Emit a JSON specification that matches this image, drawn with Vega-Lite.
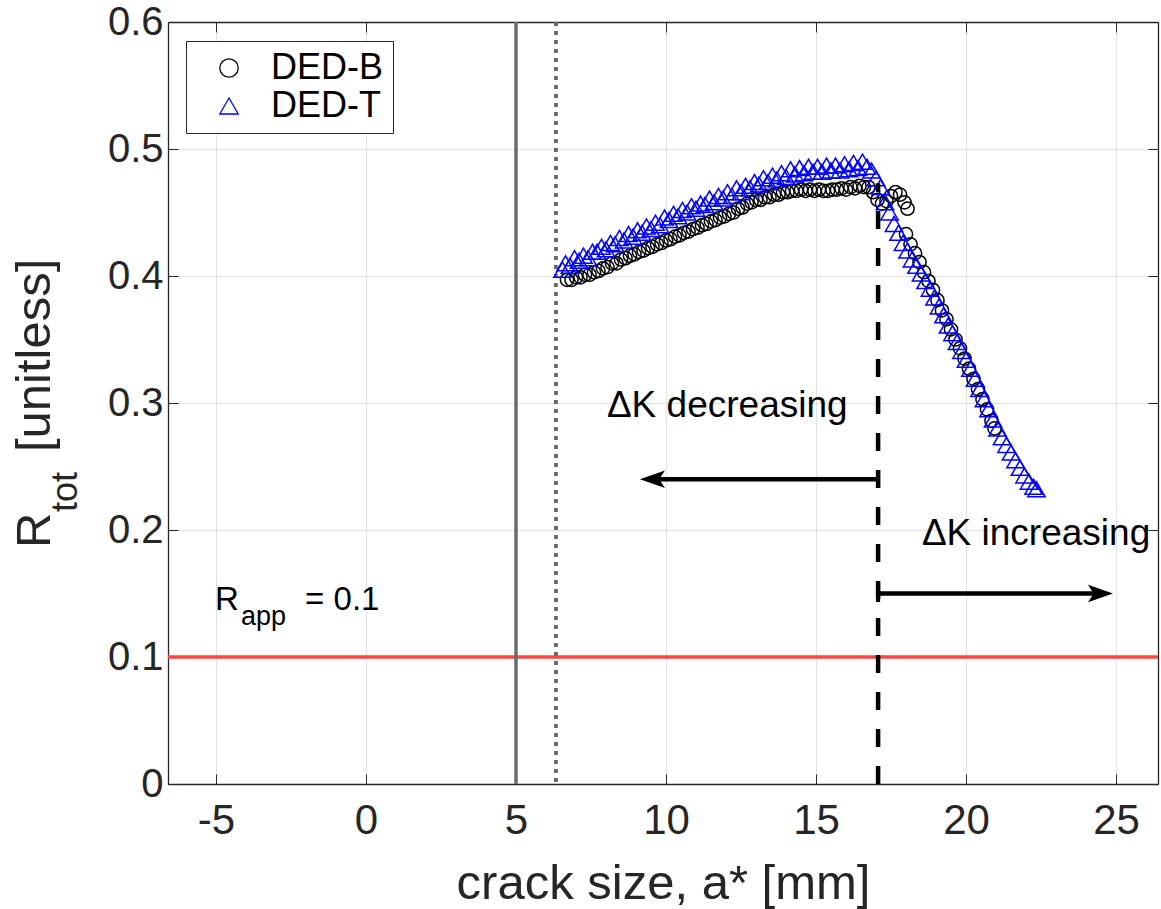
{
  "$schema": "https://vega.github.io/schema/vega-lite/v6.json",
  "width": 990,
  "height": 762,
  "autosize": {"type": "none"},
  "padding": {"left": 168, "top": 22, "right": 3, "bottom": 125},
  "background": "white",
  "config": {
    "view": {"stroke": null},
    "font": "Liberation Sans",
    "text": {"font": "Liberation Sans"}
  },
  "resolve": {"axis": {"x": "independent", "y": "independent"}},
  "layer": [
    {
      "data": {"values": [{}]},
      "mark": {"type": "rule", "color": "#ff4545", "strokeWidth": 3.5},
      "encoding": {
        "y": {"datum": 0.1, "axis": {"orient": "right", "labels": false, "grid": false, "title": null, "values": [0, 0.1, 0.2, 0.3, 0.4, 0.5, 0.6], "tickSize": -10, "tickColor": "#262626", "tickWidth": 1, "domainColor": "#262626", "domainWidth": 1.3}}
      }
    },
    {
      "data": {"values": [{}]},
      "mark": {"type": "rule", "color": "#6b6b6b", "strokeWidth": 3.5},
      "encoding": {
        "x": {"datum": 5, "axis": {"orient": "top", "labels": false, "grid": false, "title": null, "values": [-5, 0, 5, 10, 15, 20, 25], "tickSize": -10, "tickColor": "#262626", "tickWidth": 1, "domainColor": "#262626", "domainWidth": 1.3}}
      }
    },
    {
      "data": {"values": [{}]},
      "mark": {"type": "rule", "color": "#666666", "strokeWidth": 3.8, "strokeDash": [4, 5]},
      "encoding": {"x": {"datum": 6.33, "axis": null}}
    },
    {
      "data": {"values": [
        {"a": 6.70, "R": 0.397, "specimen": "DED-B"},
        {"a": 6.85, "R": 0.397, "specimen": "DED-B"},
        {"a": 7.00, "R": 0.399, "specimen": "DED-B"},
        {"a": 7.15, "R": 0.399, "specimen": "DED-B"},
        {"a": 7.30, "R": 0.401, "specimen": "DED-B"},
        {"a": 7.45, "R": 0.401, "specimen": "DED-B"},
        {"a": 7.60, "R": 0.403, "specimen": "DED-B"},
        {"a": 7.75, "R": 0.404, "specimen": "DED-B"},
        {"a": 7.90, "R": 0.406, "specimen": "DED-B"},
        {"a": 8.05, "R": 0.407, "specimen": "DED-B"},
        {"a": 8.20, "R": 0.410, "specimen": "DED-B"},
        {"a": 8.35, "R": 0.410, "specimen": "DED-B"},
        {"a": 8.50, "R": 0.413, "specimen": "DED-B"},
        {"a": 8.65, "R": 0.414, "specimen": "DED-B"},
        {"a": 8.80, "R": 0.416, "specimen": "DED-B"},
        {"a": 8.95, "R": 0.417, "specimen": "DED-B"},
        {"a": 9.10, "R": 0.419, "specimen": "DED-B"},
        {"a": 9.25, "R": 0.420, "specimen": "DED-B"},
        {"a": 9.40, "R": 0.422, "specimen": "DED-B"},
        {"a": 9.55, "R": 0.423, "specimen": "DED-B"},
        {"a": 9.70, "R": 0.425, "specimen": "DED-B"},
        {"a": 9.85, "R": 0.426, "specimen": "DED-B"},
        {"a": 10.00, "R": 0.428, "specimen": "DED-B"},
        {"a": 10.15, "R": 0.429, "specimen": "DED-B"},
        {"a": 10.30, "R": 0.431, "specimen": "DED-B"},
        {"a": 10.45, "R": 0.432, "specimen": "DED-B"},
        {"a": 10.60, "R": 0.434, "specimen": "DED-B"},
        {"a": 10.75, "R": 0.435, "specimen": "DED-B"},
        {"a": 10.90, "R": 0.437, "specimen": "DED-B"},
        {"a": 11.05, "R": 0.438, "specimen": "DED-B"},
        {"a": 11.20, "R": 0.440, "specimen": "DED-B"},
        {"a": 11.35, "R": 0.441, "specimen": "DED-B"},
        {"a": 11.50, "R": 0.443, "specimen": "DED-B"},
        {"a": 11.65, "R": 0.444, "specimen": "DED-B"},
        {"a": 11.80, "R": 0.446, "specimen": "DED-B"},
        {"a": 11.95, "R": 0.447, "specimen": "DED-B"},
        {"a": 12.10, "R": 0.449, "specimen": "DED-B"},
        {"a": 12.25, "R": 0.450, "specimen": "DED-B"},
        {"a": 12.40, "R": 0.453, "specimen": "DED-B"},
        {"a": 12.55, "R": 0.454, "specimen": "DED-B"},
        {"a": 12.70, "R": 0.457, "specimen": "DED-B"},
        {"a": 12.85, "R": 0.458, "specimen": "DED-B"},
        {"a": 13.00, "R": 0.460, "specimen": "DED-B"},
        {"a": 13.15, "R": 0.460, "specimen": "DED-B"},
        {"a": 13.30, "R": 0.462, "specimen": "DED-B"},
        {"a": 13.45, "R": 0.462, "specimen": "DED-B"},
        {"a": 13.60, "R": 0.464, "specimen": "DED-B"},
        {"a": 13.75, "R": 0.464, "specimen": "DED-B"},
        {"a": 13.90, "R": 0.466, "specimen": "DED-B"},
        {"a": 14.05, "R": 0.466, "specimen": "DED-B"},
        {"a": 14.20, "R": 0.467, "specimen": "DED-B"},
        {"a": 14.35, "R": 0.467, "specimen": "DED-B"},
        {"a": 14.50, "R": 0.468, "specimen": "DED-B"},
        {"a": 14.65, "R": 0.467, "specimen": "DED-B"},
        {"a": 14.80, "R": 0.468, "specimen": "DED-B"},
        {"a": 14.95, "R": 0.467, "specimen": "DED-B"},
        {"a": 15.10, "R": 0.468, "specimen": "DED-B"},
        {"a": 15.25, "R": 0.467, "specimen": "DED-B"},
        {"a": 15.40, "R": 0.467, "specimen": "DED-B"},
        {"a": 15.55, "R": 0.468, "specimen": "DED-B"},
        {"a": 15.70, "R": 0.468, "specimen": "DED-B"},
        {"a": 15.85, "R": 0.469, "specimen": "DED-B"},
        {"a": 16.00, "R": 0.468, "specimen": "DED-B"},
        {"a": 16.15, "R": 0.470, "specimen": "DED-B"},
        {"a": 16.30, "R": 0.469, "specimen": "DED-B"},
        {"a": 16.45, "R": 0.471, "specimen": "DED-B"},
        {"a": 16.60, "R": 0.470, "specimen": "DED-B"},
        {"a": 16.75, "R": 0.470, "specimen": "DED-B"},
        {"a": 16.90, "R": 0.466, "specimen": "DED-B"},
        {"a": 17.05, "R": 0.460, "specimen": "DED-B"},
        {"a": 17.20, "R": 0.457, "specimen": "DED-B"},
        {"a": 17.35, "R": 0.459, "specimen": "DED-B"},
        {"a": 17.50, "R": 0.463, "specimen": "DED-B"},
        {"a": 17.65, "R": 0.466, "specimen": "DED-B"},
        {"a": 17.80, "R": 0.464, "specimen": "DED-B"},
        {"a": 17.95, "R": 0.458, "specimen": "DED-B"},
        {"a": 18.05, "R": 0.453, "specimen": "DED-B"},
        {"a": 18.00, "R": 0.433, "specimen": "DED-B"},
        {"a": 18.15, "R": 0.425, "specimen": "DED-B"},
        {"a": 18.30, "R": 0.418, "specimen": "DED-B"},
        {"a": 18.45, "R": 0.411, "specimen": "DED-B"},
        {"a": 18.60, "R": 0.403, "specimen": "DED-B"},
        {"a": 18.75, "R": 0.396, "specimen": "DED-B"},
        {"a": 18.90, "R": 0.389, "specimen": "DED-B"},
        {"a": 19.05, "R": 0.381, "specimen": "DED-B"},
        {"a": 19.20, "R": 0.373, "specimen": "DED-B"},
        {"a": 19.35, "R": 0.366, "specimen": "DED-B"},
        {"a": 19.50, "R": 0.358, "specimen": "DED-B"},
        {"a": 19.65, "R": 0.350, "specimen": "DED-B"},
        {"a": 19.80, "R": 0.343, "specimen": "DED-B"},
        {"a": 19.95, "R": 0.335, "specimen": "DED-B"},
        {"a": 20.10, "R": 0.327, "specimen": "DED-B"},
        {"a": 20.25, "R": 0.319, "specimen": "DED-B"},
        {"a": 20.40, "R": 0.311, "specimen": "DED-B"},
        {"a": 20.55, "R": 0.303, "specimen": "DED-B"},
        {"a": 20.70, "R": 0.295, "specimen": "DED-B"},
        {"a": 20.85, "R": 0.286, "specimen": "DED-B"},
        {"a": 20.95, "R": 0.280, "specimen": "DED-B"},
        {"a": 6.55, "R": 0.405, "specimen": "DED-T"},
        {"a": 6.65, "R": 0.410, "specimen": "DED-T"},
        {"a": 6.80, "R": 0.408, "specimen": "DED-T"},
        {"a": 6.95, "R": 0.414, "specimen": "DED-T"},
        {"a": 7.10, "R": 0.412, "specimen": "DED-T"},
        {"a": 7.25, "R": 0.416, "specimen": "DED-T"},
        {"a": 7.40, "R": 0.414, "specimen": "DED-T"},
        {"a": 7.55, "R": 0.419, "specimen": "DED-T"},
        {"a": 7.70, "R": 0.419, "specimen": "DED-T"},
        {"a": 7.85, "R": 0.423, "specimen": "DED-T"},
        {"a": 8.00, "R": 0.421, "specimen": "DED-T"},
        {"a": 8.15, "R": 0.426, "specimen": "DED-T"},
        {"a": 8.30, "R": 0.425, "specimen": "DED-T"},
        {"a": 8.45, "R": 0.430, "specimen": "DED-T"},
        {"a": 8.60, "R": 0.428, "specimen": "DED-T"},
        {"a": 8.75, "R": 0.433, "specimen": "DED-T"},
        {"a": 8.90, "R": 0.431, "specimen": "DED-T"},
        {"a": 9.05, "R": 0.436, "specimen": "DED-T"},
        {"a": 9.20, "R": 0.434, "specimen": "DED-T"},
        {"a": 9.35, "R": 0.439, "specimen": "DED-T"},
        {"a": 9.50, "R": 0.437, "specimen": "DED-T"},
        {"a": 9.65, "R": 0.442, "specimen": "DED-T"},
        {"a": 9.80, "R": 0.440, "specimen": "DED-T"},
        {"a": 9.95, "R": 0.446, "specimen": "DED-T"},
        {"a": 10.10, "R": 0.444, "specimen": "DED-T"},
        {"a": 10.25, "R": 0.449, "specimen": "DED-T"},
        {"a": 10.40, "R": 0.447, "specimen": "DED-T"},
        {"a": 10.55, "R": 0.452, "specimen": "DED-T"},
        {"a": 10.70, "R": 0.450, "specimen": "DED-T"},
        {"a": 10.85, "R": 0.455, "specimen": "DED-T"},
        {"a": 11.00, "R": 0.453, "specimen": "DED-T"},
        {"a": 11.15, "R": 0.457, "specimen": "DED-T"},
        {"a": 11.30, "R": 0.456, "specimen": "DED-T"},
        {"a": 11.45, "R": 0.461, "specimen": "DED-T"},
        {"a": 11.60, "R": 0.458, "specimen": "DED-T"},
        {"a": 11.75, "R": 0.463, "specimen": "DED-T"},
        {"a": 11.90, "R": 0.461, "specimen": "DED-T"},
        {"a": 12.05, "R": 0.466, "specimen": "DED-T"},
        {"a": 12.20, "R": 0.463, "specimen": "DED-T"},
        {"a": 12.35, "R": 0.469, "specimen": "DED-T"},
        {"a": 12.50, "R": 0.466, "specimen": "DED-T"},
        {"a": 12.65, "R": 0.471, "specimen": "DED-T"},
        {"a": 12.80, "R": 0.469, "specimen": "DED-T"},
        {"a": 12.95, "R": 0.474, "specimen": "DED-T"},
        {"a": 13.10, "R": 0.472, "specimen": "DED-T"},
        {"a": 13.25, "R": 0.477, "specimen": "DED-T"},
        {"a": 13.40, "R": 0.474, "specimen": "DED-T"},
        {"a": 13.55, "R": 0.479, "specimen": "DED-T"},
        {"a": 13.70, "R": 0.476, "specimen": "DED-T"},
        {"a": 13.85, "R": 0.481, "specimen": "DED-T"},
        {"a": 14.00, "R": 0.478, "specimen": "DED-T"},
        {"a": 14.15, "R": 0.484, "specimen": "DED-T"},
        {"a": 14.30, "R": 0.480, "specimen": "DED-T"},
        {"a": 14.45, "R": 0.485, "specimen": "DED-T"},
        {"a": 14.60, "R": 0.481, "specimen": "DED-T"},
        {"a": 14.75, "R": 0.486, "specimen": "DED-T"},
        {"a": 14.90, "R": 0.482, "specimen": "DED-T"},
        {"a": 15.05, "R": 0.486, "specimen": "DED-T"},
        {"a": 15.20, "R": 0.482, "specimen": "DED-T"},
        {"a": 15.35, "R": 0.487, "specimen": "DED-T"},
        {"a": 15.50, "R": 0.483, "specimen": "DED-T"},
        {"a": 15.65, "R": 0.487, "specimen": "DED-T"},
        {"a": 15.80, "R": 0.483, "specimen": "DED-T"},
        {"a": 15.95, "R": 0.488, "specimen": "DED-T"},
        {"a": 16.10, "R": 0.484, "specimen": "DED-T"},
        {"a": 16.25, "R": 0.489, "specimen": "DED-T"},
        {"a": 16.40, "R": 0.485, "specimen": "DED-T"},
        {"a": 16.55, "R": 0.490, "specimen": "DED-T"},
        {"a": 16.70, "R": 0.486, "specimen": "DED-T"},
        {"a": 16.85, "R": 0.483, "specimen": "DED-T"},
        {"a": 17.00, "R": 0.477, "specimen": "DED-T"},
        {"a": 17.15, "R": 0.470, "specimen": "DED-T"},
        {"a": 17.30, "R": 0.458, "specimen": "DED-T"},
        {"a": 17.45, "R": 0.450, "specimen": "DED-T"},
        {"a": 17.60, "R": 0.441, "specimen": "DED-T"},
        {"a": 17.75, "R": 0.434, "specimen": "DED-T"},
        {"a": 17.90, "R": 0.426, "specimen": "DED-T"},
        {"a": 18.05, "R": 0.420, "specimen": "DED-T"},
        {"a": 18.20, "R": 0.413, "specimen": "DED-T"},
        {"a": 18.35, "R": 0.408, "specimen": "DED-T"},
        {"a": 18.50, "R": 0.402, "specimen": "DED-T"},
        {"a": 18.65, "R": 0.396, "specimen": "DED-T"},
        {"a": 18.80, "R": 0.390, "specimen": "DED-T"},
        {"a": 18.95, "R": 0.383, "specimen": "DED-T"},
        {"a": 19.10, "R": 0.376, "specimen": "DED-T"},
        {"a": 19.25, "R": 0.369, "specimen": "DED-T"},
        {"a": 19.40, "R": 0.361, "specimen": "DED-T"},
        {"a": 19.55, "R": 0.355, "specimen": "DED-T"},
        {"a": 19.70, "R": 0.348, "specimen": "DED-T"},
        {"a": 19.85, "R": 0.341, "specimen": "DED-T"},
        {"a": 20.00, "R": 0.334, "specimen": "DED-T"},
        {"a": 20.15, "R": 0.327, "specimen": "DED-T"},
        {"a": 20.30, "R": 0.319, "specimen": "DED-T"},
        {"a": 20.45, "R": 0.311, "specimen": "DED-T"},
        {"a": 20.60, "R": 0.303, "specimen": "DED-T"},
        {"a": 20.75, "R": 0.295, "specimen": "DED-T"},
        {"a": 20.90, "R": 0.287, "specimen": "DED-T"},
        {"a": 21.05, "R": 0.280, "specimen": "DED-T"},
        {"a": 21.20, "R": 0.273, "specimen": "DED-T"},
        {"a": 21.35, "R": 0.267, "specimen": "DED-T"},
        {"a": 21.50, "R": 0.261, "specimen": "DED-T"},
        {"a": 21.65, "R": 0.255, "specimen": "DED-T"},
        {"a": 21.80, "R": 0.249, "specimen": "DED-T"},
        {"a": 21.95, "R": 0.243, "specimen": "DED-T"},
        {"a": 22.10, "R": 0.238, "specimen": "DED-T"},
        {"a": 22.25, "R": 0.234, "specimen": "DED-T"},
        {"a": 22.35, "R": 0.232, "specimen": "DED-T"}
      ]},
      "mark": {"type": "point", "filled": false, "strokeWidth": 1.5, "opacity": 1},
      "encoding": {
        "x": {
          "field": "a", "type": "quantitative",
          "scale": {"domain": [-6.6, 26.4], "nice": false, "zero": false},
          "axis": {
            "orient": "bottom", "values": [-5, 0, 5, 10, 15, 20, 25],
            "labelExpr": "'' + datum.value",
            "title": "crack size, a* [mm]", "titleFontSize": 49, "titleFontWeight": "normal",
            "titleColor": "#262626", "titleBaseline": "alphabetic", "titleY": 114,
            "labelFontSize": 42, "labelColor": "#262626", "labelBaseline": "alphabetic",
            "labelPadding": 59, "labelFlush": false, "labelOverlap": false,
            "tickSize": -10, "tickColor": "#262626", "tickWidth": 1,
            "domainColor": "#262626", "domainWidth": 1.3,
            "grid": true, "gridColor": "#e2e2e2", "gridWidth": 1
          }
        },
        "y": {
          "field": "R", "type": "quantitative",
          "scale": {"domain": [0, 0.6], "nice": false, "zero": false},
          "axis": {
            "orient": "left", "values": [0, 0.1, 0.2, 0.3, 0.4, 0.5, 0.6],
            "labelExpr": "'' + datum.value",
            "title": null,
            "labelFontSize": 40, "labelColor": "#262626", "labelPadding": 15,
            "labelFlush": false, "labelOverlap": false,
            "tickSize": -10, "tickColor": "#262626", "tickWidth": 1,
            "domainColor": "#262626", "domainWidth": 1.3,
            "grid": true, "gridColor": "#e2e2e2", "gridWidth": 1
          }
        },
        "color": {
          "field": "specimen", "type": "nominal",
          "scale": {"domain": ["DED-B", "DED-T"], "range": ["#000000", "#0000ff"]},
          "legend": {
            "title": null, "orient": "none", "legendX": 18, "legendY": 19,
            "labelFontSize": 36, "labelColor": "#000000", "labelFont": "Liberation Sans",
            "strokeColor": "#262626", "fillColor": "#ffffff", "padding": 9, "rowPadding": 2,
            "symbolSize": 340, "symbolOffset": 16, "labelOffset": 24, "symbolStrokeWidth": 1.3
          }
        },
        "shape": {
          "field": "specimen", "type": "nominal",
          "scale": {"domain": ["DED-B", "DED-T"], "range": ["circle", "triangle-up"]}
        },
        "size": {"condition": {"test": "datum.specimen === 'DED-B'", "value": 175}, "value": 300}
      }
    },
    {
      "data": {"values": [{}]},
      "mark": {"type": "rule", "color": "#000000", "strokeWidth": 4.5, "strokeDash": [18, 19]},
      "encoding": {
        "x": {"datum": 17.07, "axis": null},
        "y": {"datum": 0, "axis": null},
        "y2": {"datum": 0.473}
      }
    },
    {
      "data": {"values": [{}]},
      "mark": {"type": "rule", "color": "#000000", "strokeWidth": 4.5},
      "encoding": {
        "x": {"datum": 17.07, "axis": null},
        "x2": {"datum": 9.5},
        "y": {"datum": 0.24, "axis": null}
      }
    },
    {
      "data": {"values": [{}]},
      "mark": {"type": "rule", "color": "#000000", "strokeWidth": 4},
      "encoding": {
        "x": {"datum": 17.07, "axis": null},
        "y": {"datum": 0.2333, "axis": null},
        "y2": {"datum": 0.2467}
      }
    },
    {
      "data": {"values": [{}]},
      "mark": {"type": "point", "filled": true, "color": "#000000", "opacity": 1, "size": 625,
               "shape": "M 0 0 L 2 -0.7 L 1.55 0 L 2 0.7 Z"},
      "encoding": {
        "x": {"datum": 9.13, "axis": null},
        "y": {"datum": 0.24, "axis": null}
      }
    },
    {
      "data": {"values": [{}]},
      "mark": {"type": "rule", "color": "#000000", "strokeWidth": 4.5},
      "encoding": {
        "x": {"datum": 17.07, "axis": null},
        "x2": {"datum": 24.5},
        "y": {"datum": 0.15, "axis": null}
      }
    },
    {
      "data": {"values": [{}]},
      "mark": {"type": "rule", "color": "#000000", "strokeWidth": 4},
      "encoding": {
        "x": {"datum": 17.07, "axis": null},
        "y": {"datum": 0.1433, "axis": null},
        "y2": {"datum": 0.1567}
      }
    },
    {
      "data": {"values": [{}]},
      "mark": {"type": "point", "filled": true, "color": "#000000", "opacity": 1, "size": 625,
               "shape": "M 0 0 L -2 -0.7 L -1.55 0 L -2 0.7 Z"},
      "encoding": {
        "x": {"datum": 24.9, "axis": null},
        "y": {"datum": 0.15, "axis": null}
      }
    },
    {
      "data": {"values": [{}]},
      "mark": {"type": "text", "text": "ΔK decreasing", "fontSize": 37, "align": "left", "baseline": "alphabetic", "color": "#000000"},
      "encoding": {
        "x": {"datum": 8.03, "axis": null},
        "y": {"datum": 0.289, "axis": null}
      }
    },
    {
      "data": {"values": [{}]},
      "mark": {"type": "text", "text": "ΔK increasing", "fontSize": 37, "align": "left", "baseline": "alphabetic", "color": "#000000"},
      "encoding": {
        "x": {"datum": 18.53, "axis": null},
        "y": {"datum": 0.188, "axis": null}
      }
    },
    {
      "data": {"values": [{}]},
      "mark": {"type": "text", "text": "R", "fontSize": 33, "align": "left", "baseline": "alphabetic", "color": "#000000"},
      "encoding": {
        "x": {"datum": -5.03, "axis": null},
        "y": {"datum": 0.137, "axis": null}
      }
    },
    {
      "data": {"values": [{}]},
      "mark": {"type": "text", "text": "app", "fontSize": 27, "align": "left", "baseline": "alphabetic", "color": "#000000"},
      "encoding": {
        "x": {"datum": -4.17, "axis": null},
        "y": {"datum": 0.125, "axis": null}
      }
    },
    {
      "data": {"values": [{}]},
      "mark": {"type": "text", "text": "= 0.1", "fontSize": 33, "align": "left", "baseline": "alphabetic", "color": "#000000"},
      "encoding": {
        "x": {"datum": -2.03, "axis": null},
        "y": {"datum": 0.137, "axis": null}
      }
    },
    {
      "data": {"values": [{}]},
      "mark": {"type": "text", "text": "R", "fontSize": 49, "angle": 270, "align": "left", "baseline": "alphabetic", "color": "#262626"},
      "encoding": {
        "x": {"datum": -10.53, "axis": null},
        "y": {"datum": 0.1858, "axis": null}
      }
    },
    {
      "data": {"values": [{}]},
      "mark": {"type": "text", "text": "tot", "fontSize": 36, "angle": 270, "align": "left", "baseline": "alphabetic", "color": "#262626"},
      "encoding": {
        "x": {"datum": -9.63, "axis": null},
        "y": {"datum": 0.2142, "axis": null}
      }
    },
    {
      "data": {"values": [{}]},
      "mark": {"type": "text", "text": "[unitless]", "fontSize": 49, "angle": 270, "align": "left", "baseline": "alphabetic", "color": "#262626"},
      "encoding": {
        "x": {"datum": -10.53, "axis": null},
        "y": {"datum": 0.2614, "axis": null}
      }
    }
  ]
}
